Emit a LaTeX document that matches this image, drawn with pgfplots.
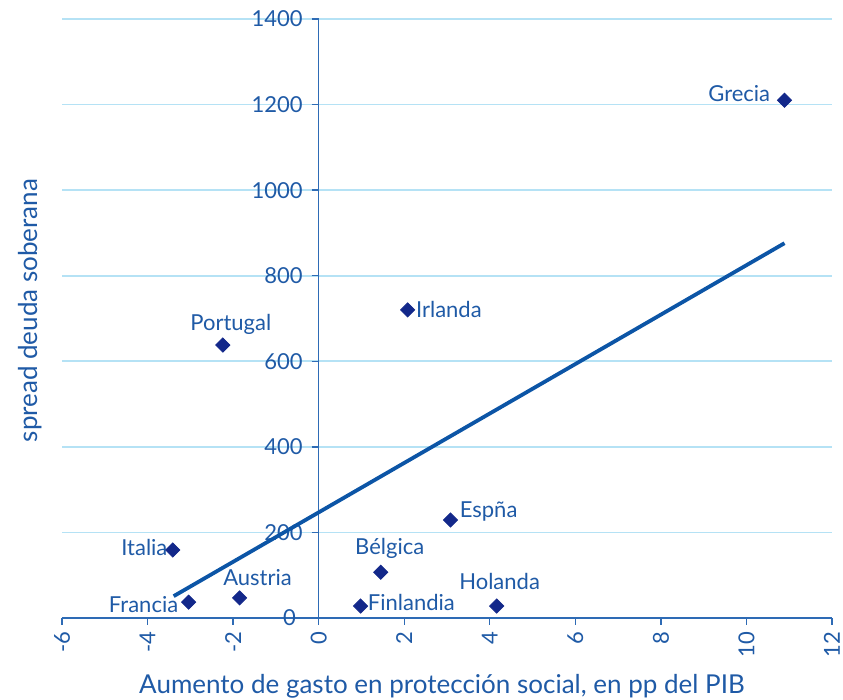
\documentclass[border=0pt]{standalone}
\usepackage{pgfplots}
\pgfplotsset{compat=1.18}
\usepackage{fontspec}
\setmainfont{Lato}
\definecolor{txtblue}{HTML}{1F5AA6}
\definecolor{axblue}{HTML}{2E6BB5}
\definecolor{gridblue}{HTML}{B5E2F5}
\definecolor{markblue}{HTML}{13288A}
\definecolor{lineblue}{HTML}{0C55A6}
\begin{document}
\begin{tikzpicture}
\begin{axis}[
  scale only axis,
  width=385pt, height=299.5pt,
  xmin=-6, xmax=12, ymin=0, ymax=1400,
  axis x line=bottom, axis y line=center,
  axis line style={axblue, line width=0.7pt, -},
  xtick={-6,-4,...,12}, ytick={0,200,...,1400},
  tick style={axblue, line width=0.7pt},
  major tick length=3.5pt,
  xtick align=outside, ytick align=outside,
  ymajorgrids, grid style={gridblue, line width=0.8pt},
  tick label style={font=\fontsize{11}{13}\selectfont, text=txtblue},
  /pgf/number format/assume math mode=true,
  /pgf/number format/1000 sep={},
  xticklabel style={rotate=90, anchor=east, xshift=0pt},
  yticklabel style={anchor=east, xshift=-1pt},
  xlabel={Aumento de gasto en protección social, en pp del PIB},
  ylabel={spread deuda soberana},
  label style={font=\fontsize{13}{15}\selectfont, text=txtblue},
  xlabel style={at={(rel axis cs:0.5,0)}, anchor=center, yshift=-34pt, xshift=-2.5pt},
  ylabel style={at={(rel axis cs:0,0.5)}, anchor=center, rotate=90, xshift=4pt, yshift=16pt},
  clip=false,
]
\addplot[only marks, mark=square*, mark size=2.5pt, mark options={rotate=45}, color=markblue] coordinates {
(10.89,1210) (2.08,720) (-2.24,638) (3.08,229) (-3.41,159)
(1.45,107) (-1.85,47) (-3.04,37) (0.98,28) (4.16,28)};
\addplot[lineblue, line width=1.9pt] coordinates {(-3.39,51) (10.89,876)};
\node[anchor=east, font=\fontsize{11}{13}\selectfont, text=txtblue] at ([xshift=-7.8pt]axis cs:0,0) {0};
\begin{scope}[every node/.style={font=\fontsize{11}{13}\selectfont, text=txtblue, inner sep=0pt}]
\node[anchor=east] at ([xshift=-7pt,yshift=3.5pt]axis cs:10.89,1210) {Grecia};
\node[anchor=west] at ([xshift=4pt]axis cs:2.08,720) {Irlanda};
\node[anchor=center] at ([xshift=4pt,yshift=10.5pt]axis cs:-2.24,638) {Portugal};
\node[anchor=west] at ([xshift=4.5pt,yshift=4.5pt]axis cs:3.08,229) {Espña};
\node[anchor=east] at ([xshift=-2.5pt,yshift=1pt]axis cs:-3.41,159) {Italia};
\node[anchor=center] at ([xshift=4.5pt,yshift=12pt]axis cs:1.45,107) {Bélgica};
\node[anchor=center] at ([xshift=9pt,yshift=10pt]axis cs:-1.85,47) {Austria};
\node[anchor=east] at ([xshift=-5pt,yshift=-1pt]axis cs:-3.04,37) {Francia};
\node[anchor=west] at ([xshift=3.5pt,yshift=2pt]axis cs:0.98,28) {Finlandia};
\node[anchor=center] at ([xshift=1.5pt,yshift=12.5pt]axis cs:4.16,28) {Holanda};
\end{scope}
\coordinate (bl) at (rel axis cs:0,0);
\coordinate (tr) at (rel axis cs:1,1);
\end{axis}
\pgfresetboundingbox
\path ([xshift=-31pt,yshift=-40.5pt]bl) rectangle ([xshift=5.5pt,yshift=9.5pt]tr);
\end{tikzpicture}
\end{document}
